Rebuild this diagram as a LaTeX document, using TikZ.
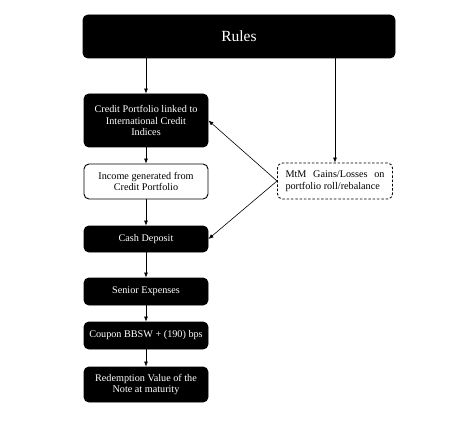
\documentclass[tikz,border=0pt]{standalone}
\usepackage{fontspec}
\setmainfont{Liberation Serif}
\usetikzlibrary{arrows.meta}
\begin{document}
\begin{tikzpicture}[x=1pt,y=-1pt,
  blackbox/.style={draw, line width=0.9pt, fill=black, text=white, rectangle, rounded corners=5pt,
    minimum width=124pt, inner sep=2pt, align=center, font=\fontsize{10.2}{11.5}\selectfont},
  whitebox/.style={blackbox, fill=white, text=black},
  gainbox/.style={whitebox, dash pattern=on 2.5pt off 1.8pt, minimum width=115pt,
    text width=99pt, align=justify},
  flow/.style={-{Latex[length=5pt,width=4pt]}, line width=0.6pt}]
\useasboundingbox (0,0) rectangle (450,425);
\node[blackbox, minimum width=312pt, minimum height=43pt, font=\fontsize{15.5}{18}\selectfont] (r) at (239,36.5) {Rules};
\node[blackbox, minimum height=53pt] (c) at (146,120.5) {Credit Portfolio linked to\\International Credit\\Indices};
\node[whitebox, minimum height=35pt] (i) at (146,181.5) {Income generated from\\Credit Portfolio};
\node[blackbox, minimum height=26pt] (k) at (146,239) {Cash Deposit};
\node[blackbox, minimum height=27pt] (s) at (146,291.5) {Senior Expenses};
\node[blackbox, minimum height=27pt] (p) at (146,335.5) {Coupon BBSW + (190) bps};
\node[blackbox, minimum height=35pt] (v) at (146,384.5) {Redemption Value of the\\Note at maturity};
\node[gainbox, minimum height=36pt] (m) at (335,181) {MtM Gains/Losses on portfolio roll/rebalance};

\draw[flow] (r.south -| c.north) -- (c.north);
\draw[flow] (r.south -| m.north) -- (m.north);
\draw[flow] (c) -- (i);
\draw[flow] (i) -- (k);
\draw[flow] (k) -- (s);
\draw[flow] (s) -- (p);
\draw[flow] (p) -- (v);
\draw[flow] (m.west) -- (c.east);
\draw[flow] (m.west) -- (k.east);
\end{tikzpicture}
\end{document}
